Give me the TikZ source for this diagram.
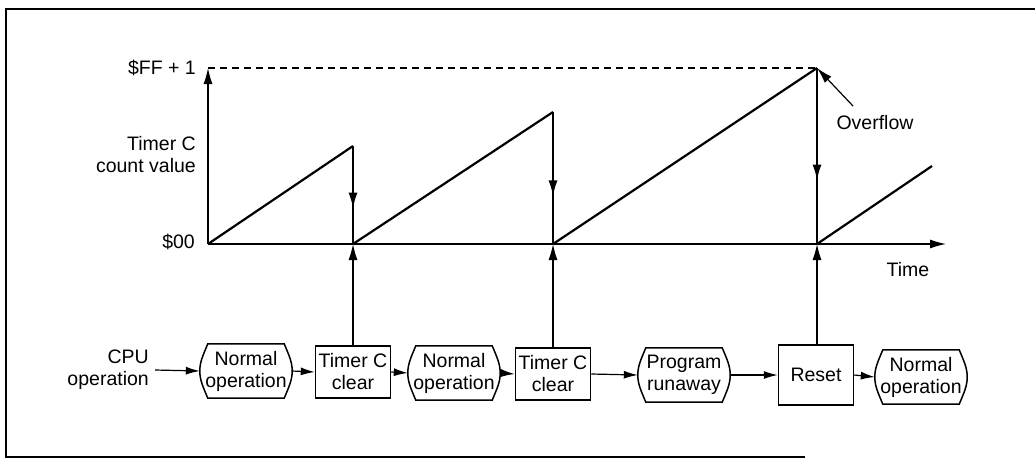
\documentclass[tikz,border=0pt]{standalone}
\usepackage{fontspec}
\setmainfont{Liberation Sans}
\usetikzlibrary{arrows.meta,decorations.markings}
\tikzset{
  lbl/.style={font=\fontsize{19.5}{22}\selectfont, inner sep=0pt, align=center},
  lblr/.style={font=\fontsize{19.5}{22}\selectfont, inner sep=0pt, align=right},
  sqbox/.style={lbl, draw, line width=1.5pt, minimum width=75pt, minimum height=52pt},
  opbox/.style={lbl, minimum width=92pt, minimum height=54pt},
  thin/.style={line width=1.2pt},
  ramp/.style={line width=2.2pt},
  tip/.style={-{Latex[length=16pt,width=9pt]}},
  smalltip/.style={-{Latex[length=14pt,width=8pt]}},
  midarrow/.style={postaction={decorate}, decoration={markings,
     mark=at position 0.64 with {\arrow{Latex[length=16pt,width=9pt]}}}},
}
\newcommand\opframe[1]{%
  \draw[line width=1.5pt] ([xshift=8pt]#1.north west) -- ([xshift=-8pt]#1.north east)
    .. controls ([xshift=-3pt,yshift=-12pt]#1.north east) and ([yshift=9pt]#1.east) .. (#1.east)
    .. controls ([yshift=-9pt]#1.east) and ([xshift=-3pt,yshift=12pt]#1.south east) .. ([xshift=-8pt]#1.south east)
    -- ([xshift=8pt]#1.south west)
    .. controls ([xshift=3pt,yshift=12pt]#1.south west) and ([yshift=-9pt]#1.west) .. (#1.west)
    .. controls ([yshift=9pt]#1.west) and ([xshift=3pt,yshift=-12pt]#1.north west) .. cycle;}
\begin{document}
\begin{tikzpicture}[x=1pt,y=-1pt]
\useasboundingbox (0,0) rectangle (1035,467);
% frame
\draw[line width=1.6pt] (1035,9) -- (6,9) -- (6,457) -- (805,457);

% axes
\coordinate (O) at (208,244);
\coordinate (Ytop) at (208,68);
\coordinate (Xend) at (946,244);
\draw[thin,tip] (O) -- (Ytop);
\draw[thin,tip] (O) -- (Xend);

% axis points and peaks
\coordinate (A1) at (353,244);
\coordinate (A2) at (553,244);
\coordinate (A3) at (817,244);
\coordinate (P1) at (353,146);
\coordinate (P2) at (553,112);
\coordinate (P3) at (817,68);
\coordinate (P4) at (932,166);

\draw[thin,dash pattern=on 7pt off 5pt] (Ytop) -- (P3);

% ramps
\draw[ramp] (O) -- (P1);
\draw[ramp] (A1) -- (P2);
\draw[ramp] (A2) -- (P3);
\draw[ramp] (A3) -- (P4);
\draw[ramp,midarrow] (P1) -- (A1);
\draw[ramp,midarrow] (P2) -- (A2);
\draw[ramp,midarrow] (P3) -- (A3);

% axis labels
\node[lblr,anchor=east] (ff) at (196,68) {\$FF + 1};
\node[lblr,anchor=east] (cv) at (196,155) {Timer C\\count value};
\node[lblr,anchor=east] (zero) at (195,242) {\$00};
\node[lbl] (time) at (908,270) {Time};
\node[lbl] (ovf) at (875,123) {Overflow};
\coordinate (ovfs) at (853,106);
\draw[thin,tip] (ovfs) -- (P3);

% flow row
\node[lblr,anchor=east] (cpu) at (149,370) {CPU\\operation};
\node[opbox] (n1) at (246,371) {Normal\\operation};
\node[sqbox] (t1) at (353,372) {Timer C\\clear};
\node[opbox] (n2) at (454,373) {Normal\\operation};
\node[sqbox] (t2) at (553,374) {Timer C\\clear};
\node[opbox] (pr) at (684,375) {Program\\runaway};
\node[sqbox,minimum height=60pt] (rs) at (816,375) {Reset};
\node[opbox] (n3) at (921,377) {Normal\\operation};
\opframe{n1}\opframe{n2}\opframe{pr}\opframe{n3}

\draw[thin,smalltip] ([xshift=6pt]cpu.east) -- (n1.west);
\draw[thin,smalltip] (n1.east) -- (t1.west);
\draw[thin,smalltip] (t1.east) -- (n2.west);
\draw[thin,smalltip] (n2.east) -- (t2.west);
\draw[thin,smalltip] (t2.east) -- (pr.west);
\draw[thin,smalltip] (pr.east) -- (rs.west);
\draw[thin,smalltip] (rs.east) -- (n3.west);

\draw[thin,tip] (t1.north) -- (A1);
\draw[thin,tip] (t2.north) -- (A2);
\draw[thin,tip] (rs.north -| A3) -- (A3);
\end{tikzpicture}
\end{document}
